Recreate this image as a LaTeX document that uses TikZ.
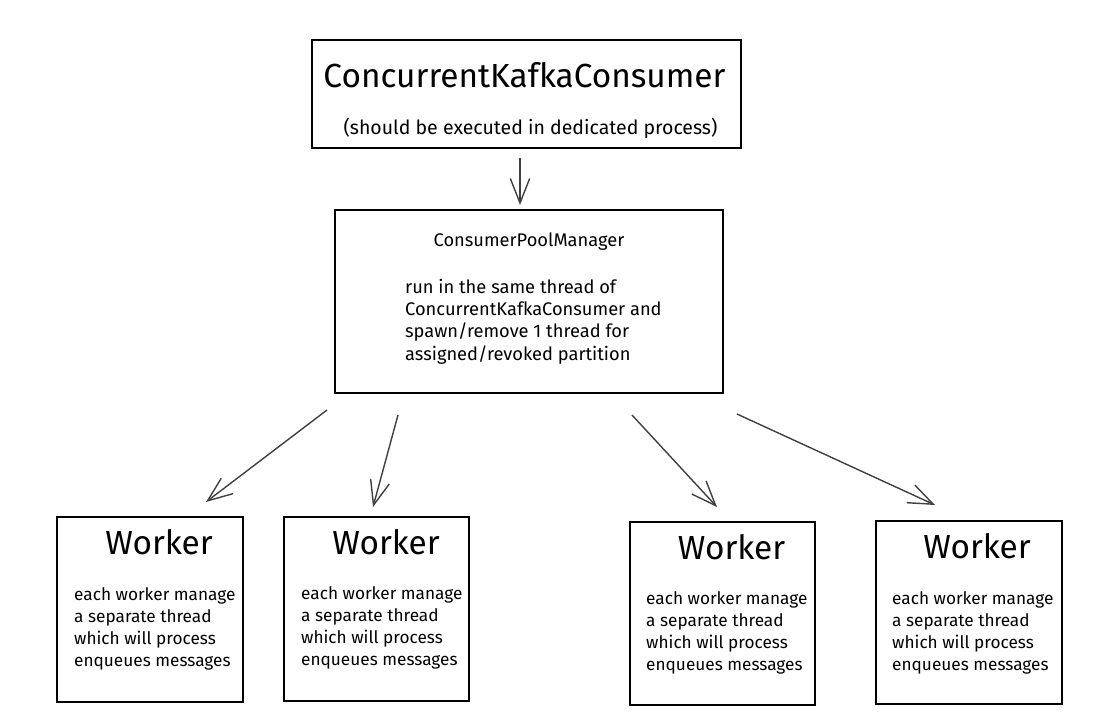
\documentclass[tikz,border=0pt]{standalone}
\usepackage{fontspec}
\setmainfont{Fira Sans}
\usetikzlibrary{arrows.meta}

\tikzset{
	box/.style={draw, line width=0.8pt, inner sep=0pt},
	bigtext/.style={font=\fontsize{19}{22}\selectfont},
	smalltext/.style={font=\fontsize{10.4}{12.7}\selectfont, align=left},
	worktext/.style={font=\fontsize{9.8}{12.5}\selectfont, align=left, anchor=west},
	conn/.style={draw=black!75, line width=0.8pt}
}

\begin{document}
\begin{tikzpicture}[x=0.02cm, y=-0.02cm, >={Straight Barb[length=14pt, width=11pt]}]
			\useasboundingbox (0,0) rectangle (1110,721);
			% boxes
			\node	(kc) at (526.5,94) [box, minimum width=8.58cm, minimum height=2.16cm] {};
			\node	(mgr) at (529,301.5) [box, minimum width=7.76cm, minimum height=3.66cm] {};
			\node	(w1) at (150,609.5) [box, minimum width=3.72cm, minimum height=3.70cm] {};
			\node	(w2) at (376.5,609) [box, minimum width=3.70cm, minimum height=3.68cm] {};
			\node	(w3) at (722.5,613.5) [box, minimum width=3.70cm, minimum height=3.66cm] {};
			\node	(w4) at (969,612.5) [box, minimum width=3.72cm, minimum height=3.66cm] {};
			% texts
			\node	(kctitle) at (524.5,75) [bigtext] {ConcurrentKafkaConsumer};
			\node	(kcnote) at (530.5,128) [smalltext, font=\fontsize{11.1}{13}\selectfont] {(should be executed in dedicated process)};
			\node	(mgrtitle) at (529,242) [smalltext] {ConsumerPoolManager};
			\node	(mgrnote) at (399,321.5) [smalltext, anchor=west] {run in the same thread of\\ConcurrentKafkaConsumer and\\spawn/remove 1 thread for\\assigned/revoked partition};
			\node	(w1title) at (159,542) [bigtext] {Worker};
			\node	(w2title) at (386,542) [bigtext] {Worker};
			\node	(w3title) at (731.5,547) [bigtext] {Worker};
			\node	(w4title) at (977,546) [bigtext] {Worker};
			\node	(w1note) at (68,628.5) [worktext] {each worker manage\\a separate thread\\which will process\\enqueues messages};
			\node	(w2note) at (295,627.5) [worktext] {each worker manage\\a separate thread\\which will process\\enqueues messages};
			\node	(w3note) at (640,633) [worktext] {each worker manage\\a separate thread\\which will process\\enqueues messages};
			\node	(w4note) at (886,632.5) [worktext] {each worker manage\\a separate thread\\which will process\\enqueues messages};
			% arrow ends
			\coordinate (kcout) at (520,158);
			\coordinate (mgrin) at (520,205);
			\coordinate (out1) at (327,410);
			\coordinate (out2) at (398,415);
			\coordinate (out3) at (632,415);
			\coordinate (out4) at (737,414);
			\coordinate (in1) at (206,502);
			\coordinate (in2) at (373,507);
			\coordinate (in3) at (717,507);
			\coordinate (in4) at (935,505);
			\draw[conn]
			(kcout) edge[->] (mgrin)
			(out1) edge[->] (in1)
			(out2) edge[->] (in2)
			(out3) edge[->] (in3)
			(out4) edge[->] (in4)
			;
		\end{tikzpicture}
\end{document}
